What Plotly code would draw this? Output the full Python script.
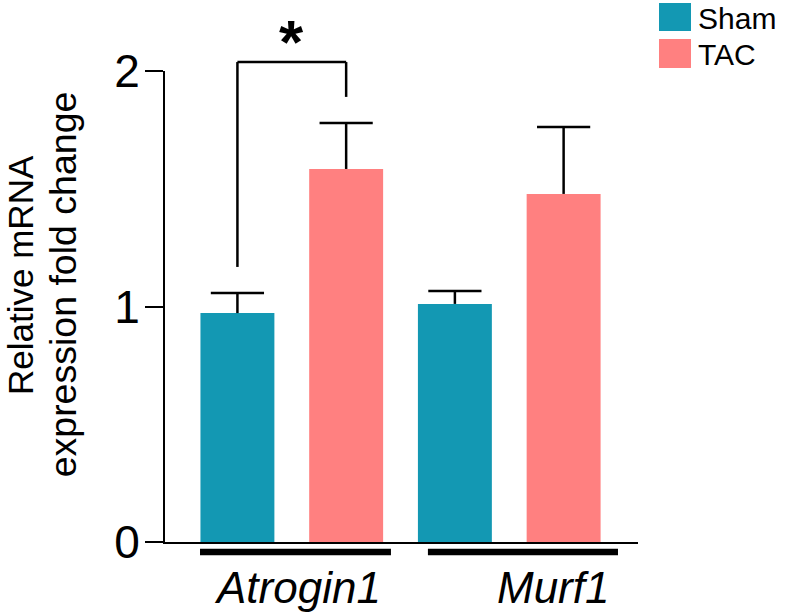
import plotly.graph_objects as go

# ---- data ----
genes = ["Atrogin1", "Murf1"]
groups = ["Sham", "TAC"]
sham_mean = [0.972, 1.011]
sham_err = [0.085, 0.055]
tac_mean = [1.584, 1.478]
tac_err = [0.195, 0.284]
y_ticks = [0, 1, 2]
colors = {"Sham": "#1398B3", "TAC": "#FF8080"}
sig_label = "*"

FONT = "Arial, 'Liberation Sans', sans-serif"
XRANGE = [-0.583, 1.592]
YMAX = 2
OFFSET = {"Sham": -0.25, "TAC": 0.25}
BAR_W = 0.34

fig = go.Figure()
for name, means, errs in [("Sham", sham_mean, sham_err), ("TAC", tac_mean, tac_err)]:
    xs = [i + OFFSET[name] for i in range(len(genes))]
    fig.add_trace(go.Bar(
        x=xs, y=means, name=name, width=BAR_W,
        marker=dict(color=colors[name], line=dict(width=0)),
        error_y=dict(type="data", array=errs, arrayminus=[0] * len(errs), symmetric=False,
                     color="black", thickness=2.5, width=0),
        showlegend=False, hovertext=genes,
    ))
    # error-bar caps (top only)
    fig.add_trace(go.Scatter(
        x=xs, y=[m + e for m, e in zip(means, errs)], mode="markers",
        marker=dict(symbol="line-ew", size=38, color="black", line=dict(color="black", width=2.5)),
        showlegend=False, hoverinfo="skip",
    ))

shapes = []
annotations = []

# group underlines
underline_offsets = [(-0.422, 0.456), (-0.374, 0.50)]
for i, (a, b) in enumerate(underline_offsets):
    shapes.append(dict(type="line", xref="x", yref="paper", x0=i + a, x1=i + b,
                       y0=-0.0212, y1=-0.0212, line=dict(color="black", width=6.5)))

# category labels (italic)
label_shift = [6, 44]
for i, g in enumerate(genes):
    annotations.append(dict(x=i, y=-0.096, xref="x", yref="paper", text=f"<i>{g}</i>",
                            showarrow=False, xanchor="center", yanchor="middle", xshift=label_shift[i],
                            font=dict(family=FONT, size=44, color="black")))

# significance bracket between Sham and TAC for Atrogin1
x_left, x_right = 0 + OFFSET["Sham"], 0 + OFFSET["TAC"]
y_left_start = 1.168 / YMAX
y_top = 2.038 / YMAX
y_right_end = 1.89 / YMAX
for (x0, y0, x1, y1) in [(x_left, y_left_start, x_left, y_top),
                         (x_left, y_top, x_right, y_top),
                         (x_right, y_top, x_right, y_right_end)]:
    shapes.append(dict(type="line", xref="x", yref="paper", x0=x0, y0=y0, x1=x1, y1=y1,
                       line=dict(color="black", width=2.5)))
annotations.append(dict(x=0, y=1.062, xref="x", yref="paper", text=f"<b>{sig_label}</b>",
                        showarrow=False, xanchor="center", yanchor="middle",
                        font=dict(family=FONT, size=62, color="black")))

# y title (two lines)
annotations.append(dict(x=-0.3045, y=0.5669, xref="paper", yref="paper", text="Relative mRNA",
                        textangle=-90, showarrow=False, xanchor="center", yanchor="middle",
                        font=dict(family=FONT, size=35, color="black")))
annotations.append(dict(x=-0.216, y=0.5467, xref="paper", yref="paper", text="expression fold change",
                        textangle=-90, showarrow=False, xanchor="center", yanchor="middle",
                        font=dict(family=FONT, size=37.5, color="black")))

# manual legend
leg_y = [(1.1444, 1.0849, 1.111), (1.068, 1.0064, 1.036)]
for name, (yt, yb, yc) in zip(groups, leg_y):
    shapes.append(dict(type="rect", xref="paper", yref="paper", x0=1.0444, x1=1.112, y0=yb, y1=yt,
                       fillcolor=colors[name], line=dict(width=0)))
    annotations.append(dict(x=1.125, y=yc, xref="paper", yref="paper", text=name, showarrow=False,
                            xanchor="left", yanchor="middle", borderpad=0,
                            font=dict(family=FONT, size=30, color="black")))

fig.update_layout(
    width=787, height=612,
    margin=dict(l=165, r=149, t=71, b=70, autoexpand=False),
    paper_bgcolor="white", plot_bgcolor="white",
    font=dict(family=FONT, color="black"),
    shapes=shapes, annotations=annotations,
    xaxis=dict(range=XRANGE, showline=True, linecolor="black", linewidth=2,
               showticklabels=False, ticks="", showgrid=False, zeroline=False),
    yaxis=dict(range=[0, YMAX], tickvals=y_ticks, showline=True, linecolor="black", linewidth=2,
               ticks="outside", ticklen=18, tickwidth=2, tickcolor="black",
               tickfont=dict(family=FONT, size=46, color="black"), ticklabelstandoff=-4,
               showgrid=False, zeroline=False),
)

fig.write_html("out.html", config={"displayModeBar": False},
               post_script="document.body.style.margin='0';document.body.style.padding='0';")
